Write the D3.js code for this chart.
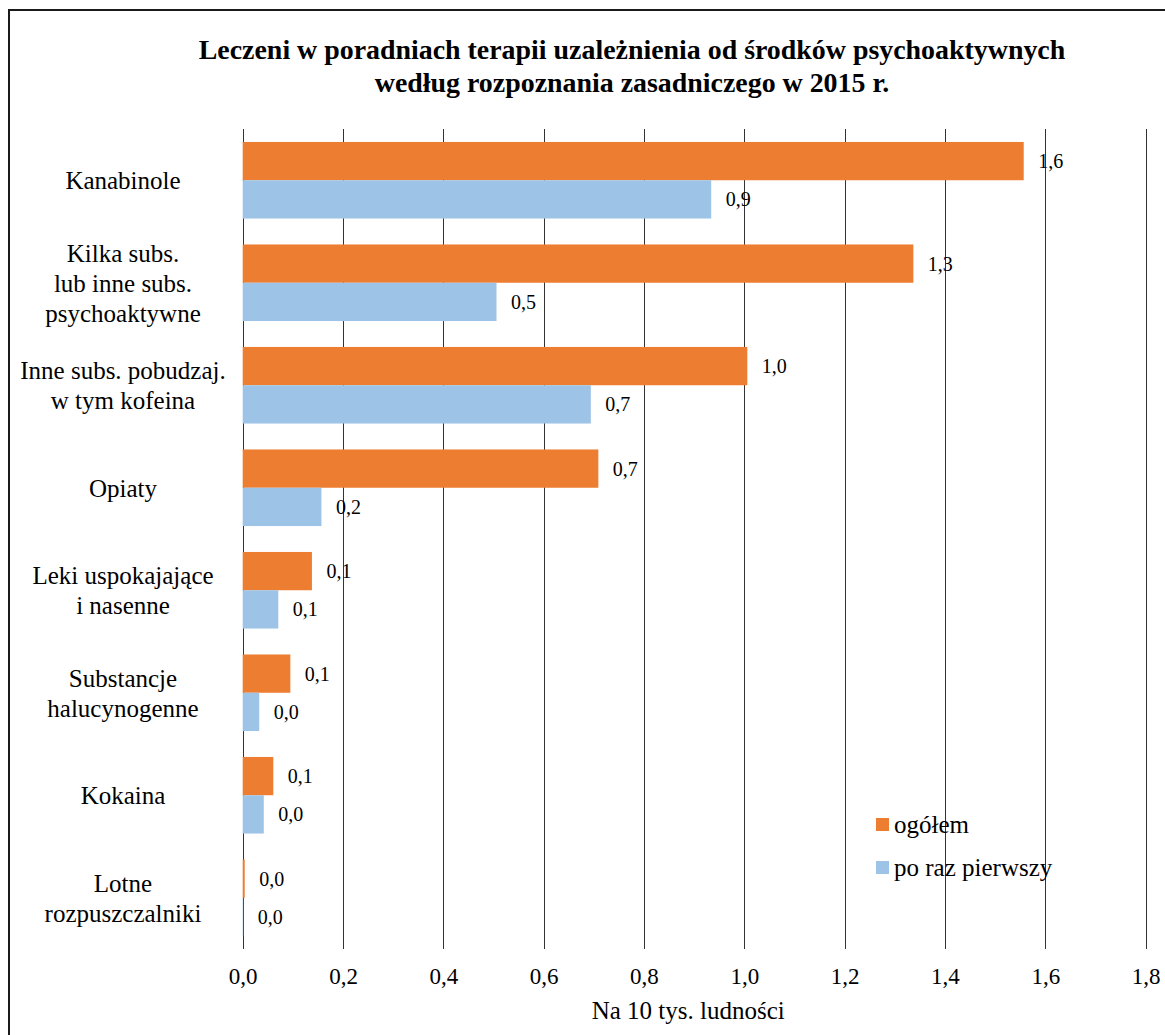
<!DOCTYPE html>
<html>
<head>
<meta charset="utf-8">
<script src="https://cdn.jsdelivr.net/npm/d3@7"></script>
<style>
  html, body { margin: 0; padding: 0; background: #fff; }
  svg { display: block; }
</style>
</head>
<body>
<svg id="chart" width="1165" height="1035"></svg>
<script>
// ---- data ----
const categories = [
  "Kanabinole",
  "Kilka subs. lub inne subs. psychoaktywne",
  "Inne subs. pobudzaj. w tym kofeina",
  "Opiaty",
  "Leki uspokajające i nasenne",
  "Substancje halucynogenne",
  "Kokaina",
  "Lotne rozpuszczalniki"
];
const categoryLines = [
  ["Kanabinole"],
  ["Kilka subs.", "lub inne subs.", "psychoaktywne"],
  ["Inne subs. pobudzaj.", "w tym kofeina"],
  ["Opiaty"],
  ["Leki uspokajające", "i nasenne"],
  ["Substancje", "halucynogenne"],
  ["Kokaina"],
  ["Lotne", "rozpuszczalniki"]
];
const seriesNames = ["ogółem", "po raz pierwszy"];
const ogolem   = [1.557, 1.337, 1.006, 0.709, 0.138, 0.095, 0.061, 0.004];
const pierwszy = [0.934, 0.506, 0.694, 0.157, 0.071, 0.033, 0.042, 0.001];
const seriesColors = ["#ED7D31", "#9DC3E6"];
const tickValues = [0, 0.2, 0.4, 0.6, 0.8, 1.0, 1.2, 1.4, 1.6, 1.8];
const titleLines = [
  "Leczeni w poradniach terapii uzależnienia od środków psychoaktywnych",
  "według rozpoznania zasadniczego w 2015 r."
];
const axisTitle = "Na 10 tys. ludności";

// ---- layout ----
const FONT = '"Liberation Serif", "Times New Roman", Tinos, serif';
const svg = d3.select("#chart");
const plot = { left: 242.7, right: 1145.6, top: 129, bottom: 949 };
const fmt = v => d3.format(".1f")(v).replace(".", ",");
const T = sel => sel.style("font-family", FONT).attr("fill", "#000");

// outer border
svg.append("rect")
  .attr("x", 9).attr("y", 10).attr("width", 1170).attr("height", 1045)
  .attr("fill", "none").attr("stroke", "#1a1a1a").attr("stroke-width", 2);

// title (fit width of first line to reference span)
const title = svg.append("g");
const tNodes = titleLines.map((t, i) =>
  title.append("text").call(T)
    .attr("x", 632).attr("y", 59 + i * 33)
    .attr("text-anchor", "middle")
    .style("font-weight", "bold").style("font-size", "24px")
    .text(t));
const w1 = tNodes[0].node().getComputedTextLength();
const titleSize = Math.max(20, Math.min(28, 24 * 867 / w1));
tNodes.forEach(n => n.style("font-size", titleSize + "px"));

const x = d3.scaleLinear().domain([0, 1.8]).range([plot.left, plot.right]);
const y = d3.scaleBand().domain(categories).range([plot.top, plot.bottom])
  .paddingInner(0.253).paddingOuter(0.1265);
const ySub = d3.scaleBand().domain(seriesNames).range([0, y.bandwidth()]);

// gridlines
svg.append("g").selectAll("line").data(tickValues).join("line")
  .attr("x1", d => Math.round(x(d)) + 0.5).attr("x2", d => Math.round(x(d)) + 0.5)
  .attr("y1", plot.top).attr("y2", plot.bottom)
  .attr("stroke", "#333").attr("stroke-width", 1);

// x axis labels
const xAxis = d3.axisBottom(x).tickValues(tickValues).tickFormat(fmt).tickSize(0).tickPadding(0);
const gx = svg.append("g").attr("transform", `translate(0, ${plot.bottom})`).call(xAxis);
gx.attr("font-family", null).attr("font-size", null);
gx.select(".domain").remove();
gx.selectAll("text").call(T)
  .attr("y", 35).attr("dy", null)
  .style("font-size", "23px");

svg.append("text").call(T)
  .attr("x", (plot.left + plot.right) / 2 - 6).attr("y", 1019)
  .attr("text-anchor", "middle").style("font-size", "25px")
  .text(axisTitle);

// bars
const seriesData = [ogolem, pierwszy];
seriesData.forEach((vals, si) => {
  const g = svg.append("g");
  g.selectAll("rect").data(vals).join("rect")
    .attr("x", x(0))
    .attr("y", (d, i) => y(categories[i]) + ySub(seriesNames[si]))
    .attr("width", d => x(d) - x(0))
    .attr("height", ySub.bandwidth())
    .attr("fill", seriesColors[si]);
  g.selectAll("text").data(vals).join("text").call(T)
    .attr("x", d => x(d) + 14.5)
    .attr("y", (d, i) => y(categories[i]) + ySub(seriesNames[si]) + ySub.bandwidth() / 2)
    .attr("dy", "0.35em")
    .style("font-size", "20px")
    .text(d => fmt(d));
});

// category labels
const lineH = 30;
categories.forEach((c, i) => {
  const lines = categoryLines[i];
  const cy = y(c) + y.bandwidth() / 2;
  const t = svg.append("text").call(T).attr("text-anchor", "middle").style("font-size", "25px");
  lines.forEach((ln, j) => {
    t.append("tspan")
      .attr("x", 123)
      .attr("y", cy + (j - (lines.length - 1) / 2) * lineH)
      .attr("dy", "0.35em")
      .text(ln);
  });
});

// legend
const legend = svg.append("g");
const legendY = [818, 861];
seriesNames.forEach((n, i) => {
  legend.append("rect").attr("x", 876).attr("y", legendY[i])
    .attr("width", 13).attr("height", 13).attr("fill", seriesColors[i]);
  legend.append("text").call(T).attr("x", 894).attr("y", legendY[i] + 6.5)
    .attr("dy", "0.35em").style("font-size", "25px").text(n);
});
</script>
</body>
</html>
